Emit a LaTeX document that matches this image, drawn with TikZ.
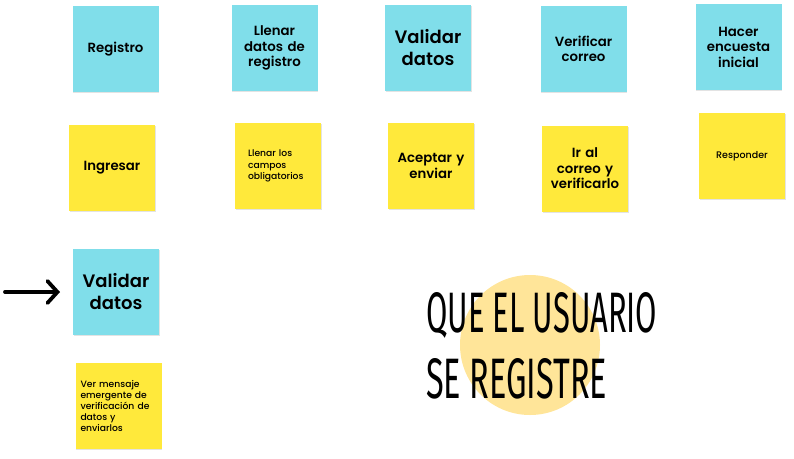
\documentclass[tikz,border=0pt]{standalone}
\usepackage{fontspec}
\setmainfont{Poppins}[BoldFont={Poppins SemiBold}]
\newfontfamily\popmed{Poppins Medium}
\newfontfamily\titlefont{Fira Sans}
\usetikzlibrary{arrows.meta,shadows}
\definecolor{cyanN}{RGB}{128,222,234}
\definecolor{yelN}{RGB}{255,233,59}
\definecolor{circN}{RGB}{255,229,153}
\begin{document}
\begin{tikzpicture}[x=1pt,y=-1pt,
  note/.style={minimum width=86pt,minimum height=86pt,inner sep=0pt,align=center,text width=82pt,
    drop shadow={shadow xshift=0.5pt,shadow yshift=-1.2pt,opacity=0.22}},
  bluenote/.style={note,fill=cyanN},
  yellownote/.style={note,fill=yelN},
  midtxt/.style={font=\bfseries\fontsize{13.3}{15.5}\selectfont},
  bigtxt/.style={font=\bfseries\fontsize{18}{22}\selectfont},
  smalltxt/.style={font=\popmed\fontsize{9.2}{11.2}\selectfont},
  arr/.style={line width=3.8pt,line cap=round,-{Straight Barb[length=10pt,width=22pt,line cap=round]}}
]
\useasboundingbox (0,0) rectangle (794,458);
% top row
\node[bluenote,midtxt] (reg) at (115.5,49) {Registro};
\node[bluenote,midtxt] (lle) at (274.5,48) {Llenar\\datos de\\registro};
\node[bluenote,bigtxt] (val) at (428,48) {Validar\\datos};
\node[bluenote,midtxt] (ver) at (583.5,49) {Verificar\\correo};
\node[bluenote,midtxt] (hac) at (738.5,47) {Hacer\\encuesta\\inicial};
% second row
\node[yellownote,midtxt] (ing) at (112,168) {Ingresar};
\node[yellownote,smalltxt,text width=60pt,align=left] (cam) at (278,166) {Llenar los\\campos\\obligatorios};
\node[yellownote,midtxt] (ace) at (431,166) {Aceptar y\\enviar};
\node[yellownote,midtxt] (ira) at (585,168.5) {Ir al\\correo y\\verificarlo};
\node[yellownote,font=\popmed\fontsize{9.5}{11}\selectfont] (res) at (742,156) {Responder};
% third column
\node[bluenote,bigtxt] (val2) at (116,292) {Validar\\datos};
\node[yellownote,smalltxt,text width=76pt,align=left] (men) at (118.5,406) {Ver mensaje\\emergente de\\verificación de\\datos y\\enviarlos};
% arrow
\coordinate (as) at (5,292);
\coordinate (ae) at (60,292);
\draw[arr] (as) -- (ae);
% title
\node[circle,fill=circN,minimum size=140pt,inner sep=0pt] (circ) at (530,345) {};
\node[anchor=base west,inner sep=0pt] (t1) at (426,332) {\resizebox{231pt}{40pt}{\titlefont QUE EL USUARIO}};
\node[anchor=base west,inner sep=0pt] (t2) at (426,398) {\resizebox{181pt}{40pt}{\titlefont SE REGISTRE}};
\end{tikzpicture}
\end{document}
